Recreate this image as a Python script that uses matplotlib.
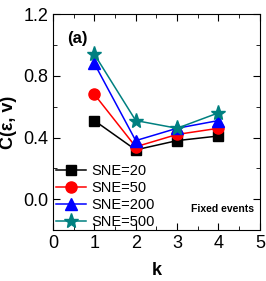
import matplotlib.pyplot as plt
from matplotlib.ticker import MultipleLocator

plt.rcParams['font.family'] = ['Liberation Sans', 'DejaVu Sans']

k = [1, 2, 3, 4]
sne_20 = [0.51, 0.32, 0.38, 0.41]
sne_50 = [0.68, 0.34, 0.42, 0.46]
sne_200 = [0.88, 0.38, 0.46, 0.51]
sne_500 = [0.94, 0.51, 0.46, 0.56]

fig = plt.figure(figsize=(2.66, 2.81), dpi=100)
ax = fig.add_axes([0.199, 0.181, 0.778, 0.769])

ax.plot(k, sne_20, color='black', marker='s', markersize=7, lw=1.1, label='SNE=20')
ax.plot(k, sne_50, color='red', marker='o', markersize=8, lw=1.1, label='SNE=50')
ax.plot(k, sne_200, color='blue', marker='^', markersize=9, lw=1.1, label='SNE=200')
ax.plot(k, sne_500, color='#008080', marker='*', markersize=11, lw=1.1, label='SNE=500')

ax.set_xlim(0, 5)
ax.set_ylim(-0.2, 1.2)
ax.xaxis.set_major_locator(MultipleLocator(1))
ax.xaxis.set_minor_locator(MultipleLocator(0.5))
ax.yaxis.set_major_locator(MultipleLocator(0.4))
ax.yaxis.set_minor_locator(MultipleLocator(0.2))
ax.tick_params(which='both', direction='in', top=True, right=True, labelsize=13)
ax.tick_params(which='major', length=5)
ax.tick_params(which='minor', length=3)

ax.set_xlabel('k', fontsize=13, fontweight='bold', labelpad=7)
ax.set_ylabel('C(ε, v)', fontsize=13, fontweight='bold')

ax.text(0.07, 0.92, '(a)', transform=ax.transAxes, fontsize=12, fontweight='bold', va='top')
ax.text(0.97, 0.097, 'Fixed events', transform=ax.transAxes, fontsize=7.5, fontweight='bold',
        ha='right', va='center')

ax.legend(loc='lower left', bbox_to_anchor=(0.0, -0.01), frameon=False, fontsize=10.5,
          handlelength=2.1, borderaxespad=0.0, borderpad=0.2, labelspacing=0.22,
          handletextpad=0.3)

fig.savefig('out.png', dpi=100)
